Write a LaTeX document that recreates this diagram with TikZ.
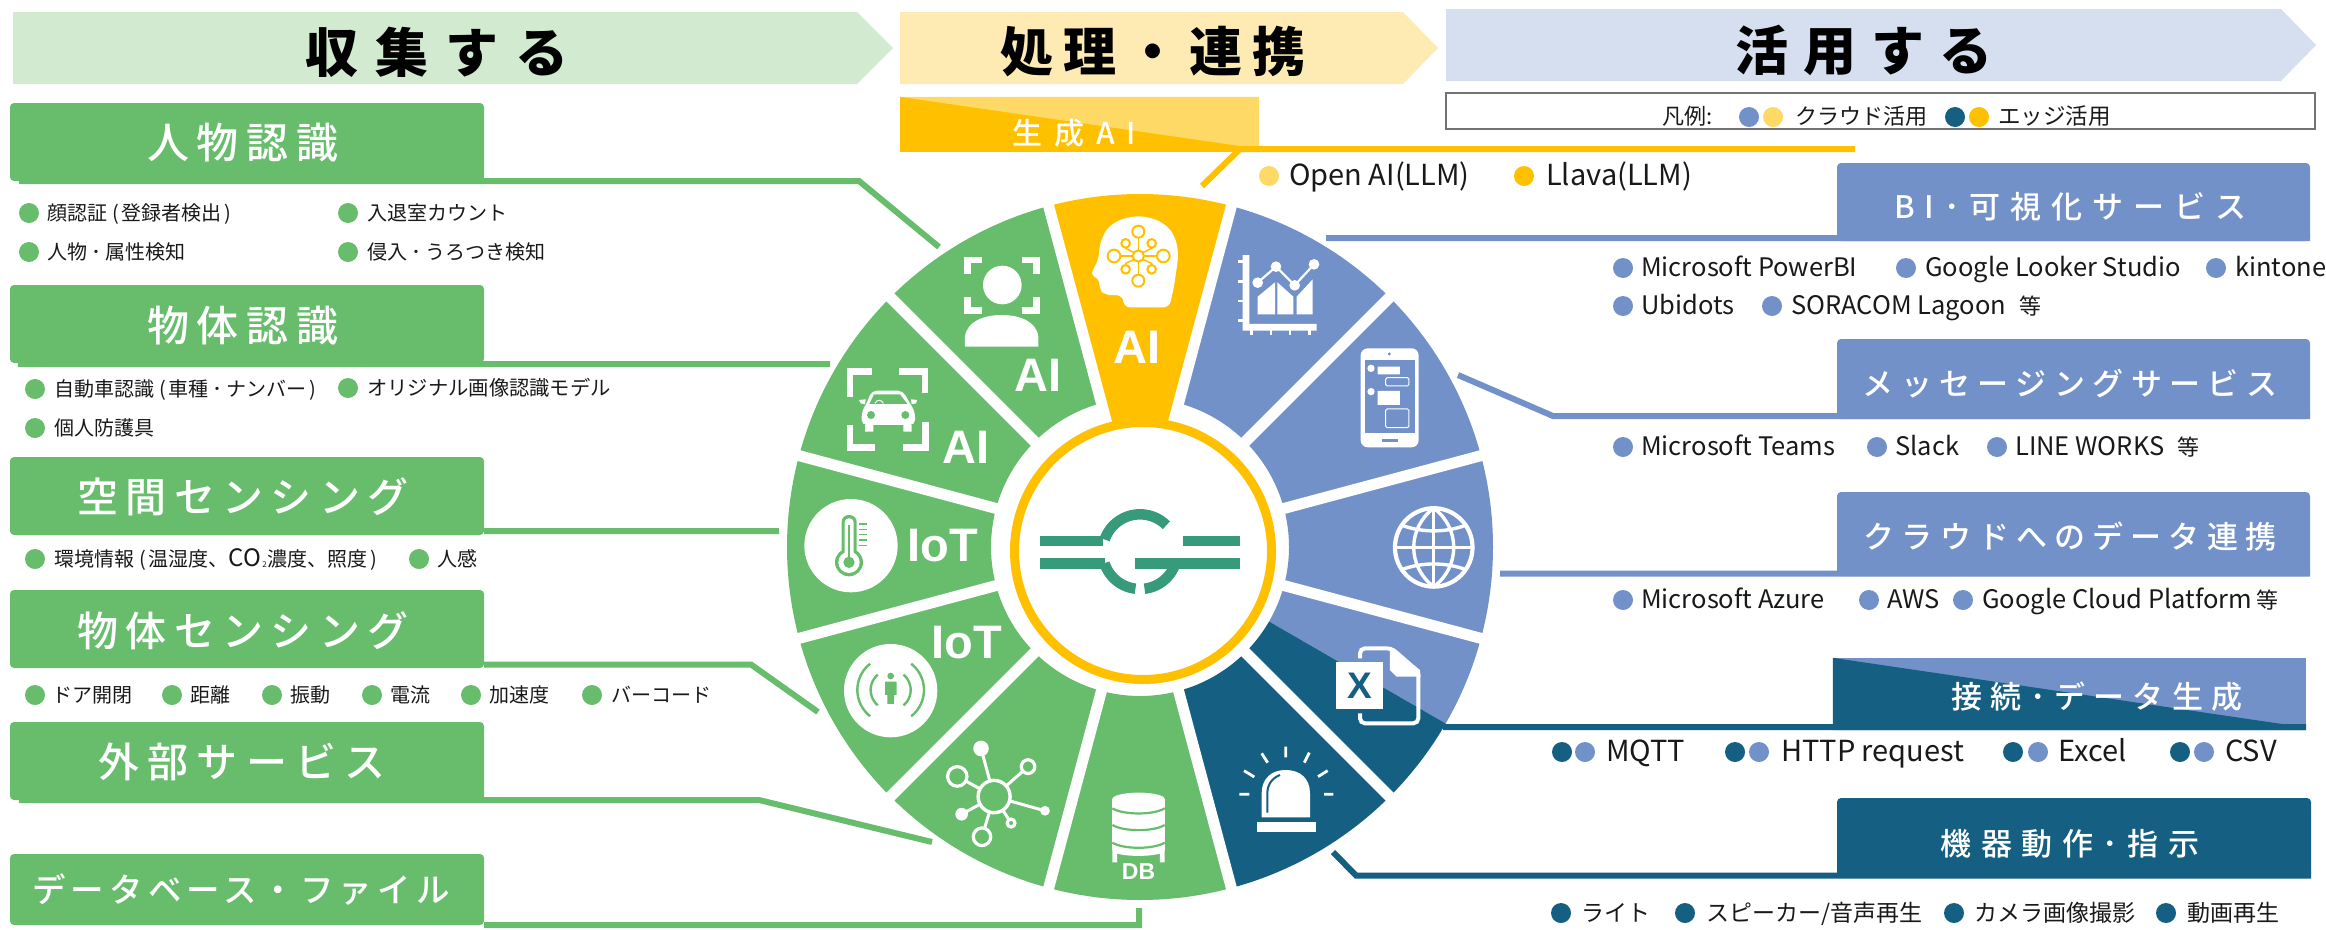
\documentclass[tikz,border=0pt]{standalone}
\usepackage{fontspec}
\setmainfont{Noto Sans CJK JP}
\newfontfamily\mdm[UprightFont=* Medium]{Noto Sans CJK JP}
\newfontfamily\ltn{Liberation Sans}
\definecolor{gr}{HTML}{67BD6C}
\definecolor{bl}{HTML}{7391C9}
\definecolor{dk}{HTML}{156082}
\definecolor{yl}{HTML}{FFC000}
\definecolor{ylt}{HTML}{FFD966}
\definecolor{lgr}{HTML}{D2EACF}
\definecolor{lyl}{HTML}{FEEBB3}
\definecolor{lbl}{HTML}{D6DFEF}
\definecolor{logo}{HTML}{369A7B}
\newcommand{\fs}[1]{\fontsize{#1}{#1}\selectfont}
\newcommand{\ls}[1]{\addfontfeature{LetterSpace=#1}}
\newcommand{\lpn}{\kern5pt(\kern3pt}
\newcommand{\rpn}{\kern3pt)\kern5pt}
\newcommand{\nd}{\kern4pt･\kern4pt}
\newcommand{\vs}{\vphantom{国(gy}}
\tikzset{
 hbox/.style={rectangle,rounded corners=4pt,inner sep=0pt,draw=none},
 htext/.style={inner sep=0pt,text=white},
 banner/.style={inner sep=0pt,text=black},
 dotn/.style={circle,inner sep=0pt,minimum size=20pt,draw=none},
 itemt/.style={inner sep=0pt,anchor=west,text=black!90},
 conn/.style={line width=6pt,line cap=butt,line join=miter},
 badge/.style={inner sep=0pt,text=white,font=\ltn\bfseries\fs{47}}
}
% name x0 y0 x1 y1 colour tx ty text
\newcommand{\tbox}[9]{\node[hbox,fill=#6,minimum width={(#4-#2)*1pt},minimum height={(#5-#3)*1pt}] (#1) at ({(#2+#4)/2},{(#3+#5)/2}) {};
 \node[htext,font=\mdm] (#1t) at (#7,#8) {#9};}
% name dotx textx y colour size text
\newcommand{\bul}[7]{\node[dotn,fill=#5] (#1d) at (#2,#4) {};\node[itemt,font=\fs{#6}] (#1t) at (#3,#4+1.5) {\vs #7};}
\newcommand{\dd}[4]{\node[dotn,fill=#4] (#1) at (#2,#3) {};}
\newcommand{\sect}[3]{\fill[#3] (#1:353) arc[start angle=#1,end angle=#2,radius=353] -- (#2:149) arc[start angle=#2,end angle=#1,radius=149] -- cycle;}
\begin{document}
\begin{tikzpicture}[x=1pt,y=-1pt]
\useasboundingbox (0,0) rectangle (2326,929);
% banners
\fill[lgr] (13,12)--(857,12)--(893,48)--(857,84)--(13,84)--cycle;
\fill[lyl] (900,12)--(1403,12)--(1438,48)--(1403,84)--(900,84)--cycle;
\fill[lbl] (1446,9)--(2281,9)--(2316,45)--(2281,81)--(1446,81)--cycle;
\node[banner,font=\bfseries\fs{53}\ls{32}] (b1) at (437,52) {収集する};
\node[banner,font=\bfseries\fs{53}\ls{19}] (b2) at (1153,52) {処理・連携};
\node[banner,font=\bfseries\fs{53}\ls{28}] (b3) at (1864,50) {活用する};
% generative AI box
\node[rectangle,inner sep=0pt,fill=yl,minimum width=359pt,minimum height=55pt] (gb) at (1079.5,124.5) {};
\fill[ylt] (gb.north west)--(gb.north east)--(1259,146)--(1240,146)--cycle;
\node[htext,font=\mdm\fs{30}\ls{40}] (gt) at (1074,133) {生成AI};
% legend
\node[draw=black!55,line width=1.5pt,fill=white,minimum width=869pt,minimum height=36pt,inner sep=0pt] (leg) at (1880.5,111) {};
\node[itemt,font=\fs{22}] (legt) at (1662,118) {\vs 凡例:};
\dd{lg1}{1749}{117}{bl}\dd{lg2}{1773}{117}{ylt}
\node[itemt,font=\fs{22}] (legc) at (1795,118) {\vs クラウド活用};
\dd{lg3}{1955}{117}{dk}\dd{lg4}{1979}{117}{yl}
\node[itemt,font=\fs{22.5}] (lege) at (1998,118) {\vs エッジ活用};
% wheel
\begin{scope}[shift={(1140,547)},x=1pt,y=1pt]
 \fill[yl] (105:353) arc[start angle=105,end angle=75,radius=353] -- (75:115) arc[start angle=75,end angle=105,radius=115] -- cycle;
 \sect{75}{45}{bl}\sect{45}{15}{bl}\sect{15}{-15}{bl}\sect{-15}{-30}{bl}\sect{-30}{-45}{dk}\sect{-45}{-75}{dk}
 \sect{-75}{-105}{gr}\sect{-105}{-135}{gr}\sect{-135}{-165}{gr}\sect{165}{195}{gr}\sect{135}{165}{gr}\sect{105}{135}{gr}
 \foreach \a in {15,45,75,105,135,165}{\draw[white,line width=11pt] (\a:362) -- (\a+180:362);}
\end{scope}
\draw[yl,line width=9pt,fill=white] (1143,551) circle[radius=128.5];
% logo
\begin{scope}[shift={(1020,440)},x=.3333pt,y=-.3333pt,line width=10.5pt,logo]
 \draw (60,303)--(250,303);
 \draw (60,370)--(255,370);
 \draw (490,303)--(660,303);
 \draw (345,370)--(660,370);
 \draw plot[domain=199:315,samples=30] ({360+112*cos(\x)},{335+112*sin(\x)});
 \draw plot[domain=162:97,samples=30] ({360+112*cos(\x)},{335+112*sin(\x)});
 \draw plot[domain=83:15,samples=30] ({360+112*cos(\x)},{335+112*sin(\x)});
\end{scope}
% icons: chart and phone
\begin{scope}[shift={(1220,220)},x=.3333pt,y=-.3333pt]
 \fill[white] (68,105) rectangle (88,332) (68,312) rectangle (290,332);
 \foreach \t in {125,185,243,302}{\fill[white] (55,\t-4) rectangle (70,\t+4);}
 \foreach \t in {95,153,210,268}{\fill[white] (\t-4,330) rectangle (\t+4,346);}
 \fill[white] (113,230)--(165,187)--(165,283)--(113,283)--cycle;
 \fill[white] (172,187)--(220,230)--(220,283)--(172,283)--cycle;
 \fill[white] (230,230)--(278,178)--(278,283)--(230,283)--cycle;
 \draw[white,line width=2.2pt] (113,188)--(168,140)--(224,196)--(282,133);
 \foreach \p in {(113,188),(168,140),(224,196),(282,133)}{\fill[white] \p circle[radius=16];}
 \fill[white,rounded corners=7pt] (422,385) rectangle (596,682);
 \fill[bl] (435,420) rectangle (585,640);
 \fill[bl] (508,402) circle[radius=5];
 \fill[bl] (485,656) rectangle (533,667);
 \fill[white] (453,445) circle[radius=11] (453,515) circle[radius=11];
 \fill[white] (473,440) rectangle (540,463) (473,513) rectangle (540,555);
 \draw[white,line width=1pt,rounded corners=1.5pt] (497,473) rectangle (567,498);
 \draw[white,line width=1pt,rounded corners=1.5pt] (497,567) rectangle (567,623);
\end{scope}
% icons: globe, network, database
\begin{scope}[shift={(760,160)},x=.4847pt,y=-.4904pt]
 \draw[white,line width=4.2pt] (1390,790) circle[radius=80];
 \draw[white,line width=3.4pt] (1390,710)..controls(1335,750)and(1335,830)..(1390,870)..controls(1445,830)and(1445,750)..(1390,710);
 \draw[white,line width=3.4pt] (1390,710)--(1390,870) (1310,790)--(1470,790);
 \draw[white,line width=3.4pt] (1325,745)..controls(1365,760)and(1415,760)..(1455,745);
 \draw[white,line width=3.4pt] (1325,835)..controls(1365,820)and(1415,820)..(1455,835);
 \draw[white,line width=3pt] (483,1298)--(456,1200) (483,1298)--(553,1237) (483,1298)--(588,1327) (483,1298)--(518,1352) (483,1298)--(458,1380) (483,1298)--(416,1334) (483,1298)--(407,1257);
 \fill[gr] (483,1298) circle[radius=33];
 \draw[white,line width=3.4pt] (483,1298) circle[radius=33];
 \fill[white] (456,1200) circle[radius=16] (588,1327) circle[radius=10] (416,1334) circle[radius=13];
 \draw[white,line width=3.2pt,fill=gr] (553,1237) circle[radius=14] (518,1352) circle[radius=8] (458,1380) circle[radius=18] (407,1257) circle[radius=20];
 \fill[white] (727,1303) rectangle (835,1408);
 \fill[white] (781,1303) ellipse [x radius=54,y radius=13];
 \fill[white] (781,1408) ellipse [x radius=54,y radius=11];
 \fill[white] (727,1408) rectangle (737,1432) (825,1408) rectangle (835,1432);
 \draw[gr,line width=2.2pt] (727,1322)..controls(750,1336)and(812,1336)..(835,1322);
 \draw[gr,line width=2.2pt] (727,1356)..controls(750,1370)and(812,1370)..(835,1356);
 \draw[gr,line width=2.2pt] (727,1392)..controls(750,1406)and(812,1406)..(835,1392);
 \node[inner sep=0pt,text=white,font=\ltn\bfseries\fs{23}] (dbt) at (781,1452) {DB};
\end{scope}
% icons: excel and alarm
\begin{scope}[shift={(1220,630)},x=.3333pt,y=-.3333pt]
 \draw[white,line width=4pt,rounded corners=5pt] (420,85)--(420,55)--(515,55)--(595,125)--(595,280)--(420,280)--(420,250);
 \fill[white] (510,50)--(600,120)--(602,140)--(530,140)--(510,120)--cycle;
 \fill[white] (348,97) rectangle (490,238);
 \node[inner sep=0pt,text=dk,font=\ltn\bfseries\fs{37}] (xl) at (420,167) {X};
 \fill[white] (125,562)--(125,490)..controls(125,445)and(155,420)..(197,420)..controls(240,420)and(270,445)..(270,490)--(270,562)--cycle;
 \draw[dk,line width=2pt] (142,548)--(142,490)..controls(142,465)and(155,445)..(180,435);
 \fill[white] (110,575) rectangle (288,606);
 \draw[white,line width=2.8pt] (197,350)--(197,382) (125,370)--(143,398) (268,368)--(253,398) (72,422)--(103,441) (323,422)--(294,440) (58,493)--(88,493) (312,493)--(340,493);
\end{scope}
% icon: head
\begin{scope}[shift={(1010,180)},x=.3333pt,y=-.3333pt]
 \fill[white,rounded corners=6pt] (240,287)--(265,240)--(270,190)--(290,145)--(330,118)--(385,107)--(440,118)--(480,145)--(500,185)--(505,230)--(492,320)--(478,382)--(342,382)--(338,346)--(285,345)--(268,328)--(268,294)--cycle;
 \draw[yl,line width=1.5pt] (385,155)--(385,302) (312,228)--(460,228);
 \draw[yl,line width=1.5pt] (347,190)--(347,205)--(372,218) (425,190)--(425,205)--(398,218) (347,268)--(347,250)--(372,238) (425,268)--(425,250)--(398,238);
 \draw[yl,line width=2pt,fill=white] (385,155) circle[radius=18] (385,302) circle[radius=18] (312,228) circle[radius=19] (460,228) circle[radius=19] (347,190) circle[radius=13] (425,190) circle[radius=13] (347,268) circle[radius=13] (425,268) circle[radius=13];
 \draw[yl,line width=2pt,fill=white] (385,228) circle[radius=17];
 \node[badge] (ai0) at (381,503) {AI};
\end{scope}
% icons: person and car
\begin{scope}[shift={(830,240)},x=.3333pt,y=-.3333pt]
 \draw[white,line width=6.5pt] (413,103)--(413,60)--(457,60) (577,60)--(620,60)--(620,103) (413,170)--(413,212)--(457,212) (577,212)--(620,212)--(620,170);
 \fill[white] (517,135) circle[radius=58];
 \fill[white] (405,320)--(405,290)..controls(410,245)and(460,225)..(515,225)..controls(570,225)and(620,245)..(625,290)--(625,320)--cycle;
 \node[badge] (ai1) at (625,406) {AI};
 \draw[white,line width=6.5pt] (60,470)--(60,395)--(127,395) (208,395)--(285,395)--(285,460) (60,555)--(60,622)--(135,622) (220,622)--(287,622)--(287,545);
 \fill[white,rounded corners=5pt] (125,452)--(218,452)--(240,490)--(255,515)--(255,555)--(95,555)--(95,515)--(110,490)--cycle;
 \fill[white] (105,555) rectangle (130,575) (220,555) rectangle (245,575);
 \fill[white] (87,480)--(107,478)--(105,493)--(92,490)--cycle (262,480)--(243,478)--(245,493)--(258,490)--cycle;
 \fill[gr] (132,463)--(210,463)--(232,492)--(118,492)--cycle;
 \draw[white,line width=1pt] (135,490)..controls(140,478)and(155,478)..(160,490);
 \fill[gr] (123,525) circle[radius=12] (226,525) circle[radius=12];
 \node[badge] (ai2) at (408,622) {AI};
\end{scope}
% icons: thermometer and presence
\begin{scope}[shift={(800,500)},x=.3333pt,y=-.3333pt]
 \fill[white] (153,137) circle[radius=140];
 \fill[gr,rounded corners=7pt] (125,180)--(125,45)--(170,45)--(170,180)--cycle;
 \fill[gr] (147,187) circle[radius=42];
 \fill[white] (147,187) circle[radius=32];
 \fill[white,rounded corners=4pt] (134,200)--(134,55)--(161,55)--(161,200)--cycle;
 \fill[gr] (143,75) rectangle (151,187);
 \fill[gr] (147,187) circle[radius=17];
 \foreach \t in {72,88,104,120,136}{\draw[gr,line width=1.4pt] (178,\t)--(202,\t);}
 \node[badge] (iot1) at (429,137) {IoT};
 \fill[white] (272,572) circle[radius=140];
 \fill[gr] (272,528) circle[radius=10];
 \fill[gr] (255,545) rectangle (290,585) (262,585) rectangle (282,612);
 \draw[gr,line width=2.4pt] plot[domain=-50:50,samples=20] ({272+60*cos(\x)},{570+60*sin(\x)});
 \draw[gr,line width=2.4pt] plot[domain=130:230,samples=20] ({272+60*cos(\x)},{570+60*sin(\x)});
 \draw[gr,line width=2.4pt] plot[domain=-52:52,samples=20] ({272+100*cos(\x)},{570+100*sin(\x)});
 \draw[gr,line width=2.4pt] plot[domain=128:232,samples=20] ({272+100*cos(\x)},{570+100*sin(\x)});
 \node[badge] (iot2) at (501,428) {IoT};
\end{scope}
% left title boxes
\tbox{pb}{10}{103}{484}{181}{gr}{243}{143}{\fs{42}\ls{19}人物認識}
\tbox{ob}{10}{285}{484}{363}{gr}{243}{326}{\fs{42}\ls{19}物体認識}
\tbox{sb}{10}{457}{484}{535}{gr}{243}{497}{\fs{41}\ls{18}空間センシング}
\tbox{tb}{10}{590}{484}{668}{gr}{243}{631}{\fs{41}\ls{18}物体センシング}
\tbox{eb}{10}{722}{484}{800}{gr}{242}{762}{\fs{41}\ls{20}外部サービス}
\tbox{db}{10}{854}{484}{925}{gr}{241}{890}{\fs{33.5}\ls{15}データベース・ファイル}
% right title boxes
\tbox{vb}{1837}{163}{2310}{241}{bl}{2070}{207}{\fs{31}\ls{32}BI･可視化サービス}
\tbox{mb}{1837}{339}{2310}{419}{bl}{2070}{384}{\fs{31}\ls{24}メッセージングサービス}
\tbox{cb}{1837}{492}{2310}{576}{bl}{2070}{537}{\fs{31}\ls{23}クラウドへのデータ連携}
% connection box with diagonal
\node[rectangle,inner sep=0pt,fill=bl,minimum width=473pt,minimum height=72pt] (kb) at (2069.5,694) {};
\fill[dk] (kb.north west)--(2282,724)--(kb.south east)--(kb.south west)--cycle;
\node[htext,font=\mdm\fs{31}\ls{27}] (kt) at (2097,697) {接続･データ生成};
\tbox{ib}{1837}{798}{2311}{878}{dk}{2070}{844}{\fs{31}\ls{31}機器動作･指示}
% connector end points
\coordinate (pbend) at (859,181); \coordinate (pend) at (939,247);
\coordinate (oend) at (830,364);
\coordinate (send) at (779,531);
\coordinate (tbend) at (751,664.5); \coordinate (tend) at (818,712);
\coordinate (ebend) at (759,800); \coordinate (eend) at (932,842);
\coordinate (dbend) at (1139,925); \coordinate (dend) at (1139,908);
\coordinate (gbend) at (1240,149); \coordinate (gfree) at (1855,149); \coordinate (gend) at (1202,186);
\coordinate (vend) at (1326,238);
\coordinate (mbend) at (1553,416); \coordinate (mend) at (1458,375);
\coordinate (cend) at (1500,573.5);
\coordinate (kend) at (1443,727);
\coordinate (ibend) at (1356,875.5); \coordinate (iend) at (1333,852);
% connectors
\draw[conn,gr] ([xshift=9pt]pb.south west) -- (pbend) -- (pend);
\draw[conn,gr] ([xshift=8pt,yshift=-1pt]ob.south west) -- (oend);
\draw[conn,gr] ([yshift=4pt]sb.south east) -- (send);
\draw[conn,gr] ([yshift=3.5pt]tb.south east) -- (tbend) -- (tend);
\draw[conn,gr] ([xshift=9pt]eb.south west) -- (ebend) -- (eend);
\draw[conn,gr] (db.south east) -- (dbend) -- (dend);
\draw[conn,yl] (gfree) -- (gbend) -- (gend);
\draw[conn,bl] ([yshift=3pt]vb.south east) -- (vend);
\draw[conn,bl] ([yshift=3pt]mb.south east) -- (mbend) -- (mend);
\draw[conn,bl] ([yshift=2.5pt]cb.south east) -- (cend);
\draw[conn,dk] ([yshift=3pt]kb.south east) -- (kend);
\draw[conn,dk] ([yshift=2.5pt]ib.south east) -- (ibend) -- (iend);
% left items
\bul{a1}{29}{47}{213}{gr}{20}{顔認証\lpn 登録者検出\rpn}
\bul{a2}{348}{367}{213}{gr}{20}{入退室カウント}
\bul{a3}{29}{47}{252}{gr}{20}{人物\nd 属性検知}
\bul{a4}{348}{367}{252}{gr}{20}{侵入\nd うろつき検知}
\bul{o1}{35}{54}{389}{gr}{20}{自動車認識\lpn 車種\nd ナンバー\rpn}
\bul{o2}{348}{367}{388}{gr}{20.3}{オリジナル画像認識モデル}
\bul{o3}{35}{54}{428}{gr}{20}{個人防護具}
\bul{s1}{35}{54}{559}{gr}{20}{環境情報\lpn 温湿度、{\fs{24}CO}\raisebox{-1pt}{\fs{8}\kern1pt 2\kern1pt}濃度、照度\rpn}
\bul{s2}{419}{437}{559}{gr}{20}{人感}
\bul{t1}{35}{52}{695}{gr}{20}{ドア開閉}
\bul{t2}{172}{190}{695}{gr}{20}{距離}
\bul{t3}{272}{290}{695}{gr}{20}{振動}
\bul{t4}{372}{390}{695}{gr}{20}{電流}
\bul{t5}{471}{489}{695}{gr}{20}{加速度}
\bul{t6}{592}{611}{695}{gr}{20}{バーコード}
% AI items
\bul{g1}{1269}{1289}{176}{ylt}{29}{Open AI(LLM)}
\bul{g2}{1524}{1546}{176}{yl}{29}{Llava(LLM)}
% right items
\bul{v1}{1623}{1641}{268}{bl}{25.5}{Microsoft PowerBI}
\bul{v2}{1906}{1925}{268}{bl}{25.5}{Google Looker Studio}
\bul{v3}{2216}{2235}{268}{bl}{25.5}{kintone}
\bul{v4}{1623}{1641}{306}{bl}{25.5}{Ubidots}
\bul{v5}{1772}{1791}{306}{bl}{25.5}{SORACOM Lagoon}
\node[itemt,font=\fs{22}] (v6t) at (2019,307.5) {\vs 等};
\bul{m1}{1623}{1641}{447}{bl}{25.5}{Microsoft Teams}
\bul{m2}{1877}{1895}{447}{bl}{25.5}{Slack}
\bul{m3}{1997}{2015}{447}{bl}{25.5}{LINE WORKS}
\node[itemt,font=\fs{22}] (m4t) at (2177,448.5) {\vs 等};
\bul{c1}{1623}{1641}{600}{bl}{25.5}{Microsoft Azure}
\bul{c2}{1869}{1887}{600}{bl}{25.5}{AWS}
\bul{c3}{1963}{1982}{600}{bl}{25.5}{Google Cloud Platform}
\node[itemt,font=\fs{22}] (c4t) at (2256,601.5) {\vs 等};
\dd{k0}{1562}{752}{dk}\bul{k1}{1585}{1606}{752}{bl}{29}{MQTT}
\dd{k2}{1735}{752}{dk}\bul{k3}{1759}{1781}{752}{bl}{29}{HTTP request}
\dd{k4}{2013}{752}{dk}\bul{k5}{2038}{2058}{752}{bl}{29}{Excel}
\dd{k6}{2180}{752}{dk}\bul{k7}{2204}{2225}{752}{bl}{29}{CSV}
\bul{i1}{1561}{1581}{913}{dk}{23}{ライト}
\bul{i2}{1685}{1706}{913}{dk}{23}{スピーカー/音声再生}
\bul{i3}{1954}{1974}{913}{dk}{23}{カメラ画像撮影}
\bul{i4}{2166}{2187}{913}{dk}{23}{動画再生}
\end{tikzpicture}
\end{document}
